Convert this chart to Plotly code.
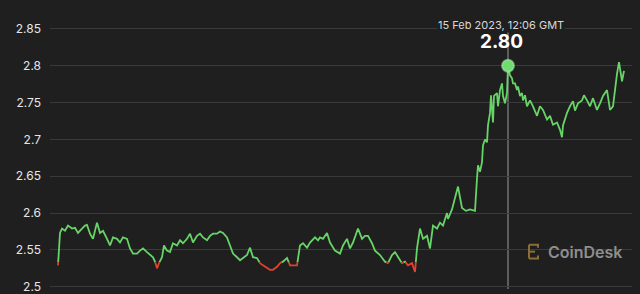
import pandas as pd
import plotly.graph_objects as go

# ---- data ----
start_time = "2023-02-09 21:06"
hours = [0, 0.6, 1.2, 2.1, 3.0, 4.2, 5.1, 6.0, 7.2, 8.1, 8.7, 9.6, 10.5, 11.7, 12.6, 13.5, 14.7, 15.6,
         16.5, 17.7, 18.6, 19.5, 20.7, 21.6, 22.5, 23.7, 24.6, 25.5, 26.7, 27.6, 28.5, 29.1, 29.7, 30.3,
         31.2, 31.8, 32.7, 33.6, 34.5, 35.7, 36.6, 37.5, 38.7, 39.6, 40.5, 41.7, 42.6, 43.5, 44.7, 45.6,
         46.5, 47.7, 48.6, 49.5, 50.7, 51.6, 52.5, 53.7, 54.6, 55.5, 56.7, 57.6, 58.5, 59.7, 60.6, 61.5,
         62.7, 63.6, 64.5, 65.7, 66.6, 67.5, 68.7, 69.6, 70.5, 71.7, 72.6, 73.5, 74.7, 75.6, 77.1, 78.0,
         78.6, 79.5, 80.7, 81.6, 83.1, 84.6, 85.5, 86.7, 87.6, 88.5, 90.0, 91.2, 92.1, 93.0, 94.2, 95.1,
         96.6, 98.1, 99.0, 100.2, 101.1, 102.0, 103.2, 104.1, 105.0, 106.2, 107.1, 107.7, 108.6, 109.5,
         110.7, 111.6, 112.5, 113.7, 114.6, 115.5, 116.7, 117.0, 118.2, 119.1, 120.0, 121.2, 122.4, 123.6,
         124.8, 125.1, 125.7, 126.0, 126.6, 127.2, 127.5, 128.1, 128.7, 129.0, 129.6, 129.9, 130.5, 130.8,
         131.7, 132.0, 132.6, 133.2, 133.5, 134.1, 134.7, 135.0, 135.6, 136.2, 136.5, 137.1, 137.7, 138.0,
         138.6, 139.2, 139.5, 140.1, 140.7, 141.6, 142.5, 143.7, 144.6, 145.5, 146.7, 147.6, 148.5, 149.7,
         150.6, 151.2, 151.5, 152.7, 153.6, 154.5, 155.1, 156.0, 157.2, 157.8, 158.7, 159.6, 160.5, 161.7,
         162.6, 163.5, 164.7, 165.6, 166.5, 167.1, 167.7, 168.3, 168.9, 169.2, 169.8]
prices = [2.529, 2.573, 2.579, 2.576, 2.583, 2.579, 2.580, 2.573, 2.579, 2.583, 2.584, 2.572, 2.565, 2.587,
          2.573, 2.576, 2.565, 2.556, 2.567, 2.565, 2.560, 2.567, 2.565, 2.552, 2.545, 2.545, 2.549, 2.552,
          2.547, 2.543, 2.540, 2.534, 2.525, 2.532, 2.540, 2.556, 2.549, 2.547, 2.559, 2.556, 2.563, 2.559,
          2.565, 2.572, 2.560, 2.569, 2.572, 2.567, 2.563, 2.569, 2.572, 2.572, 2.575, 2.573, 2.567, 2.556,
          2.545, 2.540, 2.536, 2.539, 2.543, 2.553, 2.540, 2.539, 2.532, 2.529, 2.525, 2.523, 2.523, 2.527,
          2.532, 2.534, 2.539, 2.529, 2.529, 2.529, 2.556, 2.559, 2.553, 2.560, 2.567, 2.563, 2.567, 2.565,
          2.573, 2.560, 2.549, 2.545, 2.556, 2.565, 2.552, 2.560, 2.579, 2.565, 2.569, 2.569, 2.559, 2.549,
          2.543, 2.534, 2.532, 2.543, 2.547, 2.540, 2.532, 2.534, 2.529, 2.532, 2.520, 2.552, 2.579, 2.565,
          2.569, 2.552, 2.583, 2.579, 2.587, 2.583, 2.600, 2.592, 2.605, 2.620, 2.636, 2.607, 2.603, 2.605,
          2.603, 2.603, 2.647, 2.665, 2.656, 2.669, 2.692, 2.700, 2.696, 2.719, 2.736, 2.760, 2.723, 2.759,
          2.763, 2.745, 2.767, 2.776, 2.759, 2.749, 2.763, 2.800, 2.787, 2.783, 2.776, 2.776, 2.767, 2.772,
          2.759, 2.763, 2.753, 2.760, 2.745, 2.753, 2.745, 2.732, 2.745, 2.740, 2.727, 2.732, 2.720, 2.723,
          2.713, 2.703, 2.719, 2.736, 2.745, 2.752, 2.739, 2.749, 2.753, 2.760, 2.753, 2.745, 2.756, 2.740,
          2.749, 2.759, 2.767, 2.740, 2.745, 2.772, 2.789, 2.805, 2.789, 2.779, 2.793]
baseline = 2.533
highlight_hour = 135.0
y_ticks = [2.5, 2.55, 2.6, 2.65, 2.7, 2.75, 2.8, 2.85]
y_tick_labels = ["2.5", "2.55", "2.6", "2.65", "2.7", "2.75", "2.8", "2.85"]

GREEN = "#66d466"
RED = "#e3412c"
BG = "#1f1f1f"
FONT = "Inter, Liberation Sans, sans-serif"

t0 = pd.Timestamp(start_time)
times = [t0 + pd.Timedelta(hours=h) for h in hours]

# split into green (>= baseline) and red (< baseline) with interpolated crossings
gx, gy, rx, ry = [], [], [], []
for i in range(len(prices)):
    p, t = prices[i], times[i]
    if i > 0:
        pp, tp = prices[i - 1], times[i - 1]
        if (pp - baseline) * (p - baseline) < 0:
            f = (baseline - pp) / (p - pp)
            tc = tp + (t - tp) * f
            gx.append(tc); gy.append(baseline)
            rx.append(tc); ry.append(baseline)
    if p >= baseline:
        gx.append(t); gy.append(p)
        rx.append(t); ry.append(None)
    else:
        rx.append(t); ry.append(p)
        gx.append(t); gy.append(None)

fig = go.Figure()
fig.add_trace(go.Scatter(x=gx, y=gy, mode="lines", line=dict(color=GREEN, width=1.8),
                         connectgaps=False, hoverinfo="skip", showlegend=False))
fig.add_trace(go.Scatter(x=rx, y=ry, mode="lines", line=dict(color=RED, width=1.8),
                         connectgaps=False, hoverinfo="skip", showlegend=False))

hi_time = t0 + pd.Timedelta(hours=highlight_hour)
hi_val = prices[hours.index(highlight_hour)]

fig.add_shape(type="line", x0=hi_time, x1=hi_time, xref="x", yref="paper", y0=0, y1=0.93,
              line=dict(color="#9a9a9a", width=1), layer="below")

fig.add_trace(go.Scatter(x=[hi_time], y=[hi_val], mode="markers",
                         marker=dict(size=12, color="#6fdc6f",
                                     line=dict(color="rgba(170,240,170,0.55)", width=2)),
                         hoverinfo="skip", showlegend=False))

fig.add_annotation(x=hi_time, y=hi_val, xref="x", yref="y", yshift=41, xshift=-7,
                   text=hi_time.strftime("%-d %b %Y, %H:%M GMT"), showarrow=False,
                   font=dict(family=FONT, size=11, color="#d8d8d8"),
                   bgcolor=BG, borderpad=0)
fig.add_annotation(x=hi_time, y=hi_val, xref="x", yref="y", yshift=24, xshift=-7,
                   text=f"<b>{hi_val:.2f}</b>", showarrow=False,
                   font=dict(family=FONT, size=19, color="#ffffff"))

# CoinDesk watermark
def px(xp):
    return (xp - 50) / 582.0

def py(yp):
    return (294 - yp) / 294.0

logo_col = "#8c6e34"
for (x0, y0, x1, y1) in [(529, 249, 529, 263), (529, 249, 539, 249), (529, 263, 539, 263),
                         (529, 256, 535, 256), (538, 249, 538, 252), (538, 260, 538, 263)]:
    fig.add_shape(type="line", xref="paper", yref="paper", x0=px(x0), y0=py(y0), x1=px(x1), y1=py(y1),
                  line=dict(color=logo_col, width=2))
fig.add_annotation(xref="paper", yref="paper", x=px(546), y=py(256), xanchor="left", yanchor="middle",
                   text="CoinDesk", showarrow=False,
                   font=dict(family=FONT, size=16, color="#8e8e8e", weight=600))

fig.update_layout(
    width=640, height=294,
    margin=dict(l=50, r=8, t=0, b=0),
    paper_bgcolor=BG, plot_bgcolor=BG,
    xaxis=dict(range=[t0 - pd.Timedelta(hours=2.4), t0 + pd.Timedelta(hours=172.2)],
               showgrid=False, zeroline=False, showticklabels=False, showline=False),
    yaxis=dict(range=[2.4969, 2.8893], tickvals=y_ticks, ticktext=y_tick_labels,
               showgrid=True, gridcolor="#3a3a3a", gridwidth=1, zeroline=False, showline=False,
               ticklabelstandoff=8, ticklabeloverflow="allow",
               tickfont=dict(family=FONT, size=12, color="#e6e6e6")),
)

fig.write_html("out.html")
